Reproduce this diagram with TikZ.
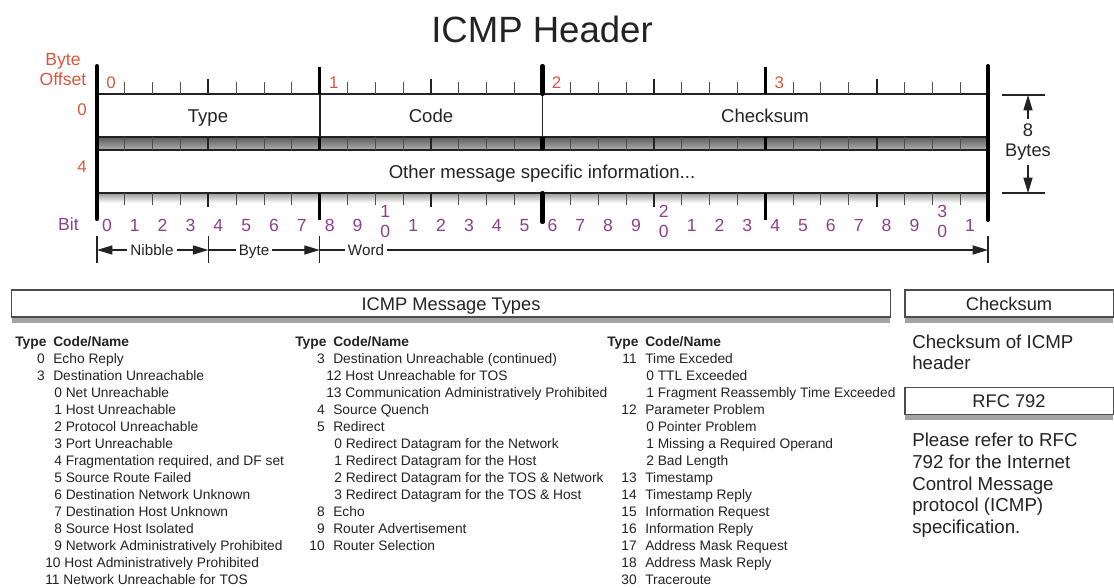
\documentclass[tikz,border=0pt]{standalone}
\usepackage{fontspec}
\setmainfont{Liberation Sans}
\usepackage{tikz}
\usetikzlibrary{arrows.meta, positioning, shadows}
\definecolor{inkgray}{RGB}{35, 35, 35}
\definecolor{offsetred}{RGB}{214, 88, 60}
\definecolor{bitpurple}{RGB}{142, 62, 142}
\def\bw{27.844}

\begin{document}
\begin{tikzpicture}[
    x=0.025cm, y=-0.025cm,
    txt/.style={text=inkgray, inner sep=0pt},
    field/.style={txt, font=\fontsize{13.2}{15}\selectfont, anchor=base},
    bitnum/.style={text=bitpurple, inner sep=0pt, font=\fontsize{12.5}{15}\selectfont, anchor=base},
    offnum/.style={text=offsetred, inner sep=0pt, font=\fontsize{12}{14}\selectfont},
    minortick/.style={draw=inkgray!80, line width=0.7pt},
    nibtick/.style={draw=inkgray, line width=1.4pt},
    bytetick/.style={draw=black, line width=1.9pt},
    bar/.style={draw=black, line width=2.9pt, line cap=round},
    rowline/.style={draw=inkgray, line width=1.1pt},
    plain/.style={draw=inkgray, line width=0.8pt},
    dim/.style={plain, -{Triangle[length=11pt, width=6.5pt]}},
    lbl/.style={txt, inner sep=2pt, font=\fontsize{10.8}{13}\selectfont, text height=7.7pt, text depth=0pt},
    hdr/.style={draw=black!70, line width=0.8pt, fill=white, txt, font=\fontsize{13}{15}\selectfont,
        text height=9.3pt, text depth=0pt, minimum height=19.2pt,
        drop shadow={shadow xshift=0pt, shadow yshift=-4pt, fill=black!60, opacity=0.6}},
    cell/.style={txt, font=\fontsize{9.8}{12}\selectfont, anchor=base west},
    side/.style={txt, font=\fontsize{13.3}{15.4}\selectfont, align=left, anchor=north west}
]
\useasboundingbox (0,0) rectangle (1114,587);

\node[txt, font=\fontsize{26}{30}\selectfont, anchor=base] (title) at (542,42) {ICMP Header};

% header rows
\shade[top color=black!65, bottom color=black!30] (97,137) rectangle (988,150);
\shade[top color=black!40, bottom color=white] (97,193) rectangle (988,203);
\foreach \y in {94,137,150,193}
    \draw[rowline] (97,\y) -- (988,\y);
\draw[rowline] (97+\bw*8,94) -- (97+\bw*8,137);
\draw[rowline] (97+\bw*16,94) -- (97+\bw*16,137);

\foreach \i in {1,...,31}{
    \pgfmathtruncatemacro\rem{mod(\i,4)}
    \ifnum\rem=0\else
        \draw[minortick] (97+\bw*\i,82) -- (97+\bw*\i,94);
        \draw[minortick] (97+\bw*\i,137) -- (97+\bw*\i,150);
        \draw[minortick] (97+\bw*\i,193) -- (97+\bw*\i,205);
    \fi
}
\foreach \i in {4,12,20,28}{
    \draw[nibtick] (97+\bw*\i,79) -- (97+\bw*\i,94);
    \draw[nibtick] (97+\bw*\i,137) -- (97+\bw*\i,150);
    \draw[nibtick] (97+\bw*\i,193) -- (97+\bw*\i,207);
}
\foreach \i in {8,24}{
    \draw[bytetick] (97+\bw*\i,67) -- (97+\bw*\i,94);
    \draw[bytetick] (97+\bw*\i,137) -- (97+\bw*\i,150);
    \draw[bytetick] (97+\bw*\i,193) -- (97+\bw*\i,220);
}
\draw[bar] (97,66) -- (97,219);
\draw[bar] (988,66) -- (988,220);
\draw[bar] (97+\bw*16,66) -- (97+\bw*16,94);
\draw[bar, line cap=butt] (97+\bw*16,137) -- (97+\bw*16,150);
\draw[bar] (97+\bw*16,193) -- (97+\bw*16,222);

\node[field] (ftype) at (208,122) {Type};
\node[field] (fcode) at (431,122) {Code};
\node[field] (fsum) at (765,122) {Checksum};
\node[field] (fother) at (542,178) {Other message specific information...};

% offsets and bit numbers
\node[offnum, align=center, anchor=south, font=\fontsize{12.5}{14.2}\selectfont] (byteoff) at (63,86) {Byte\\Offset};
\node[offnum, anchor=base east] (row0) at (87,115) {0};
\node[offnum, anchor=base east] (row4) at (87,172) {4};
\foreach \b in {0,1,2,3}
    \node[offnum, anchor=base west] (boff\b) at (97+\bw*8*\b+9,88) {\b};
\node[bitnum, anchor=base east] (bitlbl) at (79,230) {Bit};
\foreach \i in {0,...,31}{
    \pgfmathtruncatemacro\dig{mod(\i,10)}
    \pgfmathtruncatemacro\tens{\i/10}
    \pgfmathsetmacro\bxc{93+\bw*(\i+0.5)}
    \ifnum\dig=0
        \ifnum\i>0
            \node[bitnum] (bit\i t) at (\bxc,217) {\tens};
            \node[bitnum] (bit\i) at (\bxc,237) {0};
        \else
            \node[bitnum] (bit\i) at (\bxc,231) {\dig};
        \fi
    \else
        \node[bitnum] (bit\i) at (\bxc,231) {\dig};
    \fi
}

% nibble / byte / word
\coordinate (m0) at (97,250);
\coordinate (m1) at (97+\bw*4,250);
\coordinate (m2) at (97+\bw*8,250);
\coordinate (m3) at (988,250);
\foreach \m in {m0,m1,m2,m3}
    \draw[plain] (\m) ++(0,-14) -- ++(0,27);
\node[lbl] (nib) at (152,250) {Nibble};
\node[lbl] (byt) at (254,250) {Byte};
\node[lbl] (wrd) at (366,250) {Word};
\draw[dim] (nib) -- (m0);
\draw[dim] (nib) -- (m1);
\draw[plain] (m1) -- (byt);
\draw[dim] (byt) -- (m2);
\draw[plain] (m2) -- (wrd);
\draw[dim] (wrd) -- (m3);

% 8 bytes
\coordinate (sz0) at (1028,95);
\coordinate (sz1) at (1028,193);
\draw[plain] (1002,95) -- (1045,95);
\draw[plain] (1002,193) -- (1045,193);
\node[txt, inner sep=3pt, align=center, font=\fontsize{13}{14.2}\selectfont] (szlbl) at (1028,142) {8\\Bytes};
\draw[dim] (szlbl) -- (sz0);
\draw[dim] (szlbl) -- (sz1);

% message types
\node[hdr, minimum width=624.5pt] (types) at (451,303.5) {ICMP Message Types};
\node[hdr, minimum width=148pt] (sumhdr) at (1009,303.5) {Checksum};
\node[hdr, minimum width=148pt] (rfchdr) at (1009,401) {RFC 792};
\node[side] (sumtxt) at (912,334.5) {Checksum of ICMP\\header};
\node[side] (rfctxt) at (912,433) {Please refer to RFC\\792 for the Internet\\Control Message\\protocol (ICMP)\\specification.};

\foreach \x/\col in {15/a, 295/b, 607/c}{
    \node[cell, font=\fontsize{9.8}{12}\selectfont\bfseries] (type\col) at (\x,346) {Type};
    \node[cell, font=\fontsize{9.8}{12}\selectfont\bfseries] (code\col) at (\x+38,346) {Code/Name};
}

\foreach \rw/\cn/\nm in {1/0/Echo Reply, 2/3/Destination Unreachable}{
    \node[cell, anchor=base east] (ta\rw n) at (45,346+17*\rw) {\cn};
    \node[cell] (ta\rw) at (53,346+17*\rw) {\nm};
}
\foreach \rw/\cn/\nm in {3/0/Net Unreachable, 4/1/Host Unreachable, 5/2/Protocol Unreachable,
        6/3/Port Unreachable, 7/4/{Fragmentation required, and DF set}, 8/5/Source Route Failed,
        9/6/Destination Network Unknown, 10/7/Destination Host Unknown, 11/8/Source Host Isolated,
        12/9/Network Administratively Prohibited, 13/10/Host Administratively Prohibited,
        14/11/Network Unreachable for TOS}{
    \pgfmathsetmacro\cx{\cn>9 ? 45 : 54}
    \node[cell] (ca\rw) at (\cx,346+17*\rw) {\cn~\nm};
}

\foreach \rw/\cn/\nm in {1/3/Destination Unreachable (continued), 4/4/Source Quench, 5/5/Redirect,
        10/8/Echo, 11/9/Router Advertisement, 12/10/Router Selection}{
    \node[cell, anchor=base east] (tb\rw n) at (325,346+17*\rw) {\cn};
    \node[cell] (tb\rw) at (333,346+17*\rw) {\nm};
}
\foreach \rw/\cn/\nm in {2/12/Host Unreachable for TOS, 3/13/Communication Administratively Prohibited,
        6/0/Redirect Datagram for the Network, 7/1/Redirect Datagram for the Host,
        8/2/Redirect Datagram for the TOS \& Network, 9/3/Redirect Datagram for the TOS \& Host}{
    \pgfmathsetmacro\cx{\cn>9 ? 326 : 334}
    \node[cell] (cb\rw) at (\cx,346+17*\rw) {\cn~\nm};
}

\foreach \rw/\cn/\nm in {1/11/Time Exceded, 4/12/Parameter Problem, 8/13/Timestamp, 9/14/Timestamp Reply,
        10/15/Information Request, 11/16/Information Reply, 12/17/Address Mask Request,
        13/18/Address Mask Reply, 14/30/Traceroute}{
    \node[cell, anchor=base east] (tc\rw n) at (637,346+17*\rw) {\cn};
    \node[cell] (tc\rw) at (645,346+17*\rw) {\nm};
}
\foreach \rw/\cn/\nm in {2/0/TTL Exceeded, 3/1/Fragment Reassembly Time Exceeded, 5/0/Pointer Problem,
        6/1/Missing a Required Operand, 7/2/Bad Length}{
    \node[cell] (cc\rw) at (646,346+17*\rw) {\cn~\nm};
}

\end{tikzpicture}
\end{document}
